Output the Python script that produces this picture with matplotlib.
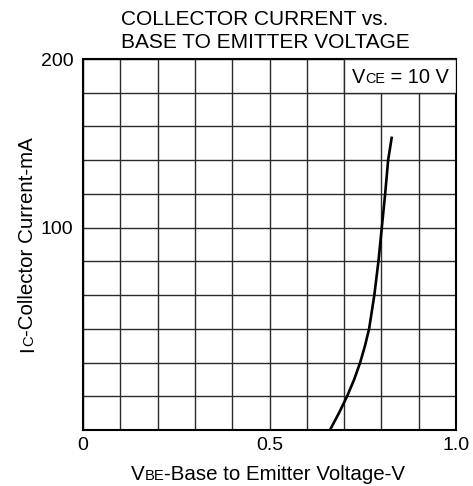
import numpy as np
import matplotlib
matplotlib.use("Agg")
import matplotlib.pyplot as plt
import matplotlib.transforms as mtransforms
from matplotlib.patches import Rectangle

plt.rcParams['font.family'] = ['Liberation Sans', 'DejaVu Sans']

# Courbe Ic = f(Vbe)
vbe = [0.662, 0.686, 0.708, 0.727, 0.743, 0.756, 0.767, 0.781, 0.792, 0.801, 0.810, 0.818, 0.828]
ic = [-20, -10, 0, 10, 20, 30, 40, 60, 80, 100, 120, 140, 154]

x_ticks = [0.0, 0.1, 0.2, 0.3, 0.4, 0.5, 0.6, 0.7, 0.8, 0.9, 1.0]
x_labels = ["0", "", "", "", "", "0.5", "", "", "", "", "1.0"]
y_ticks = [-20, 0, 20, 40, 60, 80, 100, 120, 140, 160, 180, 200]
y_labels = ["", "", "", "", "", "", "100", "", "", "", "", "200"]


def rich_text(fig, trans, x, y, parts, size, rotation=0):
    '''Place une suite de morceaux de texte (texte, échelle) sur une même ligne de base,
    centrée sur (x, y).'''
    renderer = fig.canvas.get_renderer()
    widths = []
    for s, scale in parts:
        t = fig.text(0, 0, s, fontsize=size * scale)
        widths.append(t.get_window_extent(renderer).width * 72 / fig.dpi)
        t.remove()
    ang = np.deg2rad(rotation)
    offset = -sum(widths) / 2
    for (s, scale), w in zip(parts, widths):
        tr = mtransforms.offset_copy(trans, fig=fig, x=offset * np.cos(ang),
                                     y=offset * np.sin(ang), units='points')
        fig.text(x, y, s, transform=tr, fontsize=size * scale, ha='left',
                 va='baseline', rotation=rotation, rotation_mode='anchor')
        offset += w


fig = plt.figure(figsize=(4.73, 4.86), dpi=100)
ax = fig.add_axes([0.1755, 0.1152, 0.7886, 0.7634])

ax.plot(vbe, ic, color="black", linewidth=1.9, zorder=4, solid_capstyle='butt')

ax.set_xlim(0, 1.0)
ax.set_ylim(-20, 200)
ax.set_xticks(x_ticks)
ax.set_xticklabels(x_labels)
ax.set_yticks(y_ticks)
ax.set_yticklabels(y_labels)
ax.tick_params(axis='both', length=0, labelsize=14)
ax.tick_params(axis='x', pad=5)
ax.tick_params(axis='y', pad=7)
ax.set_axisbelow(True)
ax.grid(True, color="#2a2a2a", linewidth=1.0)
for sp in ax.spines.values():
    sp.set_linewidth(1.5)

# Cadre V_CE en haut à droite
ax.add_patch(Rectangle((0.7, 180), 0.3, 20, facecolor="white", edgecolor="#2a2a2a",
                       linewidth=1.0, zorder=3))
rich_text(fig, ax.transData, 0.85, 186.0, [("V", 1.0), ("CE", 0.72), (" = 10 V", 1.0)], 14.4)

# Titre
fig.text(121 / 473, 1 - 25 / 486, "COLLECTOR CURRENT vs.", fontsize=15,
         ha='left', va='baseline')
fig.text(121 / 473, 1 - 48.3 / 486, "BASE TO EMITTER VOLTAGE", fontsize=15,
         ha='left', va='baseline')

# Étiquettes des axes
rich_text(fig, fig.transFigure, 268 / 473, 1 - 480 / 486,
          [("V", 1.0), ("BE", 0.72), ("-Base to Emitter Voltage-V", 1.0)], 14.8)
rich_text(fig, fig.transFigure, 33 / 473, 1 - 244.5 / 486,
          [("I", 1.0), ("C", 0.72), ("-Collector Current-mA", 1.0)], 14.8, rotation=90)

fig.savefig("out.png", dpi=100)
